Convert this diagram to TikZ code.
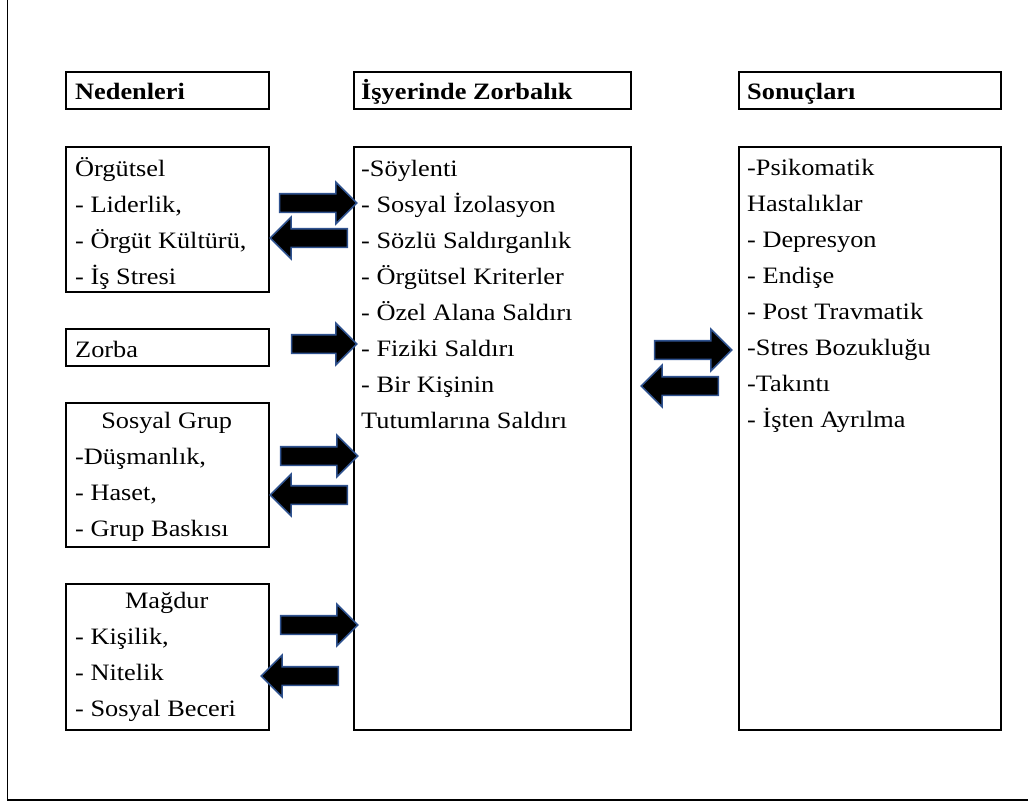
\documentclass[tikz,border=0pt]{standalone}
\usepackage{fontspec}
\setmainfont{Liberation Serif}[FakeStretch=1.12]
\usetikzlibrary{shapes.arrows}
\definecolor{arrowEdge}{RGB}{47,82,143}
\tikzset{panel/.style={draw, line width=1.6pt, inner sep=0pt, anchor=north west},
    entry/.style={anchor=base west, align=left, inner sep=0pt,
        font=\fontsize{23.5}{36}\selectfont},
    heading/.style={entry, font=\fontsize{23.5}{36}\selectfont\bfseries},
    blockArrow/.style={single arrow, draw=arrowEdge, fill=black, line width=1.6pt,
        inner sep=8.5pt, minimum height=77pt, minimum width=40pt,
        single arrow head extend=11.5pt},
    backArrow/.style={blockArrow, shape border rotate=180},
    }

\begin{document}
\begin{tikzpicture}[x=1pt, y=-1pt]
	\clip (0,0) rectangle (1028,804);
	\draw[line width=1.8pt] (7.5,-20) |- (1100,800);
	% headings
	\node[panel, minimum width=203pt, minimum height=37pt] (causeHead) at (65,71) {};
	\node[panel, minimum width=277pt, minimum height=37pt] (bullyHead) at (353,71) {};
	\node[panel, minimum width=262pt, minimum height=37pt] (resultHead) at (738,71) {};
	\node[heading] (causeTitle) at (75,99) {Nedenleri};
	\node[heading] (bullyTitle) at (361,99) {İşyerinde Zorbalık};
	\node[heading] (resultTitle) at (747,99) {Sonuçları};
	% causes (text nodes sit on their last baseline)
	\node[panel, minimum width=203pt, minimum height=145pt] (orgBox) at (65,146) {};
	\node[panel, minimum width=203pt, minimum height=37pt] (bullyBox) at (65,328) {};
	\node[panel, minimum width=203pt, minimum height=144pt] (groupBox) at (65,402) {};
	\node[panel, minimum width=203pt, minimum height=146pt] (victimBox) at (65,583) {};
	\node[entry] (orgText) at (75,284) {Örgütsel\\- Liderlik,\\- Örgüt Kültürü,\\- İş Stresi};
	\node[entry] (bullyText) at (75,357) {Zorba};
	\node[entry] (groupText) at (75,536) {\makebox[183pt]{Sosyal Grup}\\-Düşmanlık,\\- Haset,\\- Grup Baskısı};
	\node[entry] (victimText) at (75,716) {\makebox[183pt]{Mağdur}\\- Kişilik,\\- Nitelik\\- Sosyal Beceri};
	% bullying and results
	\node[panel, minimum width=277pt, minimum height=583pt] (actBox) at (353,146) {};
	\node[panel, minimum width=262pt, minimum height=583pt] (resultBox) at (738,146) {};
	\node[entry] (actText) at (361,428) {-Söylenti\\- Sosyal İzolasyon\\- Sözlü Saldırganlık\\- Örgütsel Kriterler\\- Özel Alana Saldırı\\- Fiziki Saldırı\\- Bir Kişinin\\Tutumlarına Saldırı};
	\node[entry] (resultText) at (747,427) {-Psikomatik\\Hastalıklar\\- Depresyon\\- Endişe\\- Post Travmatik\\-Stres Bozukluğu\\-Takıntı\\- İşten Ayrılma};
	% arrows
	\node[blockArrow] (orgIn) at (313.5,203) {};
	\node[backArrow] (orgOut) at (313.5,238) {};
	\node[blockArrow, minimum height=65pt, minimum width=37pt] (bullyIn) at (319.5,344) {};
	\node[blockArrow] (groupIn) at (314.5,456) {};
	\node[backArrow] (groupOut) at (313.5,495) {};
	\node[blockArrow] (victimIn) at (314.5,625) {};
	\node[backArrow] (victimOut) at (304.5,676) {};
	\node[blockArrow] (resultIn) at (688.5,350) {};
	\node[backArrow] (resultOut) at (684.5,386) {};
\end{tikzpicture}
\end{document}
